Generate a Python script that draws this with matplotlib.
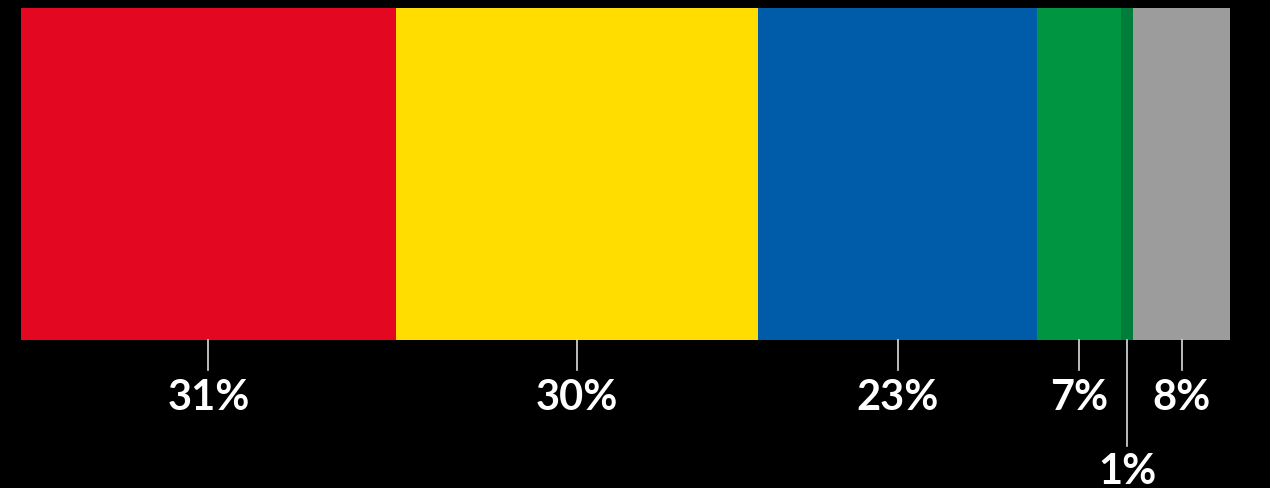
import numpy as np
import matplotlib.pyplot as plt

plt.rcParams['font.family'] = ['Lato', 'DejaVu Sans']

# share of each party / group (percent)
values = [31, 30, 23, 7, 1, 8]
labels = ['31%', '30%', '23%', '7%', '1%', '8%']
colors = ['#E30722', '#FFDD00', '#005CA9', '#009641', '#007D3A', '#9C9C9C']

W, H = 1270, 489
fig = plt.figure(figsize=(W / 100, H / 100), dpi=100, facecolor='black')
ax = fig.add_axes([21 / W, 0, 1209 / W, 1])
ax.set_facecolor('black')
ax.set_xlim(0, sum(values))
ax.set_ylim(H, 0)  # y in pixel rows, top down
ax.axis('off')

lefts = np.cumsum([0] + values[:-1])
ax.barh(174.5, values, left=lefts, height=332, color=colors, linewidth=0)

for left, v, lab in zip(lefts, values, labels):
    xc = left + v / 2
    if v < 2:
        # tiny segment: longer leader, label below the others
        ax.plot([xc, xc], [341, 447], color='#dddddd', lw=1.2)
        ax.text(xc, 472, lab, color='white', fontsize=30, fontweight='bold',
                ha='center', va='center')
    else:
        ax.plot([xc, xc], [341, 371], color='#dddddd', lw=1.2)
        ax.text(xc, 398, lab, color='white', fontsize=30, fontweight='bold',
                ha='center', va='center')

fig.savefig('out.png', dpi=100, facecolor='black')
